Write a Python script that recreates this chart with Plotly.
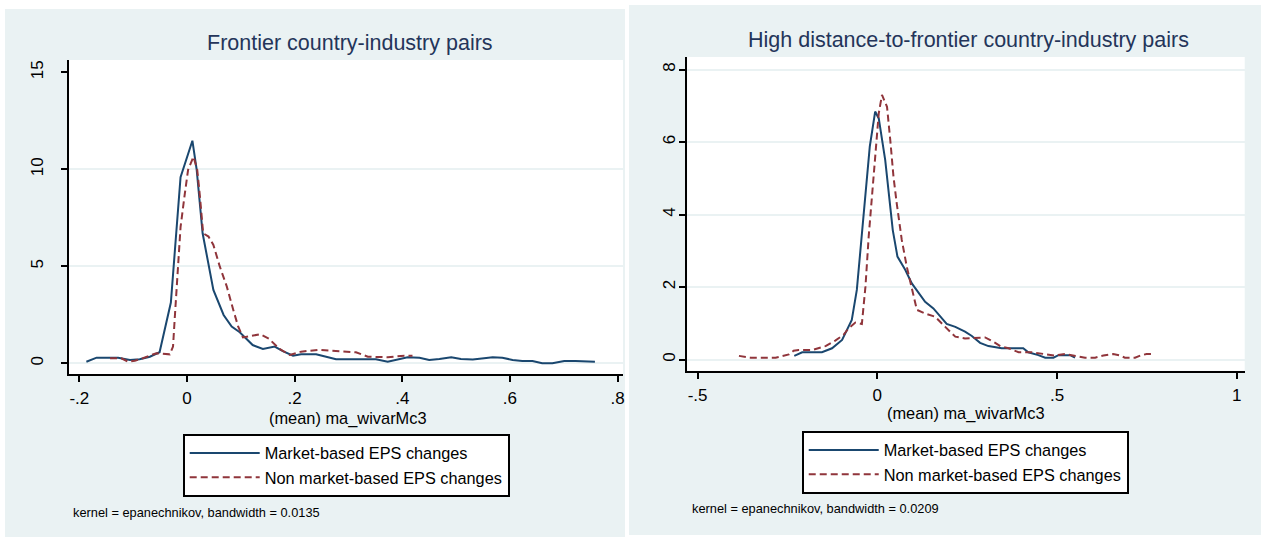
import plotly.graph_objects as go

W, H = 1263, 538
FONT = "Liberation Sans, Arial, sans-serif"

# ---------------- data ----------------
series_names = ["Market-based EPS changes", "Non market-based EPS changes"]

left_mkt_x = [-0.187, -0.168, -0.128, -0.106, -0.088, -0.069, -0.051, -0.030, -0.012, 0.010, 0.018, 0.029,
              0.049, 0.068, 0.083, 0.098, 0.122, 0.141, 0.163, 0.178, 0.197, 0.212, 0.240, 0.259, 0.277,
              0.296, 0.333, 0.351, 0.373, 0.389, 0.410, 0.432, 0.450, 0.469, 0.491, 0.509, 0.531, 0.552,
              0.568, 0.586, 0.605, 0.623, 0.642, 0.660, 0.679, 0.701, 0.722, 0.758]
left_mkt_y = [0.08, 0.29, 0.29, 0.17, 0.21, 0.34, 0.57, 3.13, 9.59, 11.47, 9.97, 6.70,
              3.78, 2.49, 1.89, 1.60, 0.94, 0.74, 0.86, 0.63, 0.39, 0.46, 0.46, 0.34, 0.21,
              0.21, 0.21, 0.21, 0.08, 0.17, 0.31, 0.29, 0.17, 0.22, 0.31, 0.22, 0.19, 0.26,
              0.31, 0.29, 0.17, 0.12, 0.12, 0.00, 0.00, 0.12, 0.12, 0.08]

left_non_x = [-0.143, -0.122, -0.109, -0.097, -0.082, -0.069, -0.057, -0.032, -0.026, -0.023, -0.016, -0.012,
              -0.004, 0.002, 0.012, 0.019, 0.024, 0.030, 0.040, 0.049, 0.061, 0.074, 0.086, 0.095,
              0.104, 0.120, 0.136, 0.152, 0.172, 0.191, 0.212, 0.243, 0.293, 0.314, 0.336, 0.373,
              0.404, 0.419]
left_non_y = [0.26, 0.26, 0.08, 0.13, 0.26, 0.39, 0.52, 0.46, 0.86, 2.23, 5.15, 7.02,
              8.76, 9.97, 10.65, 9.97, 8.60, 6.70, 6.53, 6.10, 4.98, 3.95, 2.75, 1.90,
              1.33, 1.40, 1.50, 1.27, 0.74, 0.43, 0.60, 0.69, 0.60, 0.57, 0.34, 0.31,
              0.39, 0.39]

right_mkt_x = [-0.231, -0.209, -0.154, -0.126, -0.098, -0.084, -0.071, -0.057, -0.038, -0.021, -0.006, 0.004,
               0.022, 0.043, 0.056, 0.078, 0.096, 0.133, 0.156, 0.193, 0.217, 0.244, 0.263, 0.286,
               0.309, 0.346, 0.406, 0.420, 0.448, 0.467, 0.490, 0.504, 0.536, 0.550]
right_mkt_y = [0.10, 0.20, 0.20, 0.31, 0.54, 0.81, 1.09, 1.92, 3.94, 5.87, 6.84, 6.65,
               5.50, 3.57, 2.84, 2.47, 2.10, 1.59, 1.41, 0.98, 0.90, 0.77, 0.65, 0.46,
               0.37, 0.31, 0.31, 0.20, 0.12, 0.05, 0.05, 0.12, 0.12, 0.05]

right_non_x = [-0.385, -0.353, -0.283, -0.246, -0.233, -0.219, -0.182, -0.144, -0.117, -0.094, -0.080, -0.061,
               -0.043, -0.033, -0.024, -0.010, 0.004, 0.013, 0.027, 0.036, 0.045, 0.054, 0.068, 0.082,
               0.096, 0.110, 0.133, 0.161, 0.189, 0.217, 0.244, 0.300, 0.328, 0.342, 0.365, 0.393,
               0.429, 0.467, 0.494, 0.522, 0.550, 0.578, 0.606, 0.629, 0.656, 0.675, 0.689, 0.717,
               0.735, 0.749, 0.772]
right_non_y = [0.10, 0.05, 0.05, 0.14, 0.24, 0.26, 0.26, 0.37, 0.52, 0.68, 0.86, 1.02,
               0.98, 2.01, 3.39, 5.14, 6.79, 7.30, 6.97, 6.06, 5.04, 4.31, 3.30, 2.56,
               1.92, 1.37, 1.27, 1.18, 0.90, 0.63, 0.58, 0.61, 0.46, 0.37, 0.31, 0.20,
               0.20, 0.14, 0.11, 0.15, 0.11, 0.05, 0.05, 0.11, 0.15, 0.11, 0.05, 0.05,
               0.12, 0.15, 0.15]

left_xticks = [-0.2, 0, 0.2, 0.4, 0.6, 0.8]
left_xticklabels = ["-.2", "0", ".2", ".4", ".6", ".8"]
left_yticks = [0, 5, 10, 15]
left_ygrid = [0, 5, 10]
right_xticks = [-0.5, 0, 0.5, 1]
right_xticklabels = ["-.5", "0", ".5", "1"]
right_yticks = [0, 2, 4, 6, 8]

titles = ["Frontier country-industry pairs", "High distance-to-frontier country-industry pairs"]
xtitle = "(mean) ma_wivarMc3"
notes = ["kernel = epanechnikov, bandwidth = 0.0135", "kernel = epanechnikov, bandwidth = 0.0209"]

# ---------------- styling ----------------
BLUE = "#1A476F"
RED = "#90353B"
BG = "#EAF2F3"
TITLE_C = "#24355A"


def fx(px):
    return px / W


def fy(py):
    return 1 - py / H


fig = go.Figure()

fig.add_trace(go.Scatter(x=left_mkt_x, y=left_mkt_y, mode="lines", name=series_names[0],
                         line=dict(color=BLUE, width=2), xaxis="x", yaxis="y", legend="legend"))
fig.add_trace(go.Scatter(x=left_non_x, y=left_non_y, mode="lines", name=series_names[1],
                         line=dict(color=RED, width=2, dash="7px,4px"), xaxis="x", yaxis="y", legend="legend"))
fig.add_trace(go.Scatter(x=right_mkt_x, y=right_mkt_y, mode="lines", name=series_names[0],
                         line=dict(color=BLUE, width=2), xaxis="x2", yaxis="y2", legend="legend2"))
fig.add_trace(go.Scatter(x=right_non_x, y=right_non_y, mode="lines", name=series_names[1],
                         line=dict(color=RED, width=2, dash="7px,4px"), xaxis="x2", yaxis="y2", legend="legend2"))

tickfont = dict(family=FONT, size=17, color="black")

common_x = dict(showline=True, linecolor="black", linewidth=2, ticks="outside", ticklen=6, tickwidth=1.5,
                tickcolor="black", showgrid=False, zeroline=False, tickfont=tickfont)
common_y = dict(showline=True, linecolor="black", linewidth=2, ticks="outside", ticklen=6, tickwidth=1.5,
                tickcolor="black", zeroline=False, tickfont=tickfont, tickangle=-90)

# left panel: plot area px x 69..624, y 60..374
fig.update_layout(
    xaxis=dict(domain=[fx(69), fx(624)], range=[-0.2195, 0.8102], tickvals=left_xticks,
               ticktext=left_xticklabels, anchor="y", ticklabelstandoff=2, **common_x),
    yaxis=dict(domain=[fy(374), fy(60)], range=[-0.552, 15.63], tickvals=left_yticks,
               ticktext=[str(v) for v in left_yticks], anchor="x", ticklabelstandoff=11,
               showgrid=False,
               minor=dict(tickvals=left_ygrid, showgrid=True, gridcolor=BG, gridwidth=2, ticks=""),
               **common_y),
    xaxis2=dict(domain=[fx(688.3), fx(1246.7)], range=[-0.5289, 1.0222], tickvals=right_xticks,
                ticktext=right_xticklabels, anchor="y2", ticklabelstandoff=2, **common_x),
    yaxis2=dict(domain=[fy(370.7), fy(57)], range=[-0.309, 8.345], tickvals=right_yticks,
                ticktext=[str(v) for v in right_yticks], anchor="x2", ticklabelstandoff=-3,
                showgrid=True, gridcolor=BG, gridwidth=2, **common_y),
)

legend_common = dict(bgcolor="white", bordercolor="black", borderwidth=2,
                     font=dict(family=FONT, size=16.3, color="black"),
                     xanchor="left", yanchor="top", itemwidth=70, tracegroupgap=0)
fig.update_layout(
    legend=dict(x=fx(183), y=fy(434), **legend_common),
    legend2=dict(x=fx(803), y=fy(431), **legend_common),
)

shapes = [
    dict(type="rect", xref="paper", yref="paper", x0=fx(5), x1=fx(626), y0=fy(537), y1=fy(9),
         fillcolor=BG, line=dict(width=0), layer="below"),
    dict(type="rect", xref="paper", yref="paper", x0=fx(630), x1=fx(1263), y0=fy(535), y1=fy(5),
         fillcolor=BG, line=dict(width=0), layer="below"),
    dict(type="rect", xref="paper", yref="paper", x0=fx(69), x1=fx(624), y0=fy(374), y1=fy(60),
         fillcolor="white", line=dict(width=0), layer="below"),
    dict(type="rect", xref="paper", yref="paper", x0=fx(688.3), x1=fx(1246.7), y0=fy(370.7), y1=fy(57),
         fillcolor="white", line=dict(width=0), layer="below"),
]

annotations = [
    dict(text=titles[0], x=fx(350.5), y=fy(43), xref="paper", yref="paper", showarrow=False,
         xanchor="center", yanchor="middle", font=dict(family=FONT, size=21.5, color=TITLE_C)),
    dict(text=titles[1], x=fx(970), y=fy(40), xref="paper", yref="paper", showarrow=False,
         xanchor="center", yanchor="middle", font=dict(family=FONT, size=21.5, color=TITLE_C)),
    dict(text=xtitle, x=fx(349), y=fy(418), xref="paper", yref="paper", showarrow=False,
         xanchor="center", yanchor="middle", font=dict(family=FONT, size=16.4, color="black")),
    dict(text=xtitle, x=fx(968), y=fy(413), xref="paper", yref="paper", showarrow=False,
         xanchor="center", yanchor="middle", font=dict(family=FONT, size=16.4, color="black")),
    dict(text=notes[0], x=fx(71), y=fy(512), xref="paper", yref="paper", showarrow=False,
         xanchor="left", yanchor="middle", font=dict(family=FONT, size=12.8, color="black")),
    dict(text=notes[1], x=fx(691), y=fy(508), xref="paper", yref="paper", showarrow=False,
         xanchor="left", yanchor="middle", font=dict(family=FONT, size=12.8, color="black")),
]

fig.update_layout(width=W, height=H, margin=dict(l=0, r=0, t=0, b=0), autosize=False,
                  paper_bgcolor="white", plot_bgcolor="white", showlegend=True,
                  shapes=shapes, annotations=annotations, font=dict(family=FONT))

fig.write_html("out.html")
